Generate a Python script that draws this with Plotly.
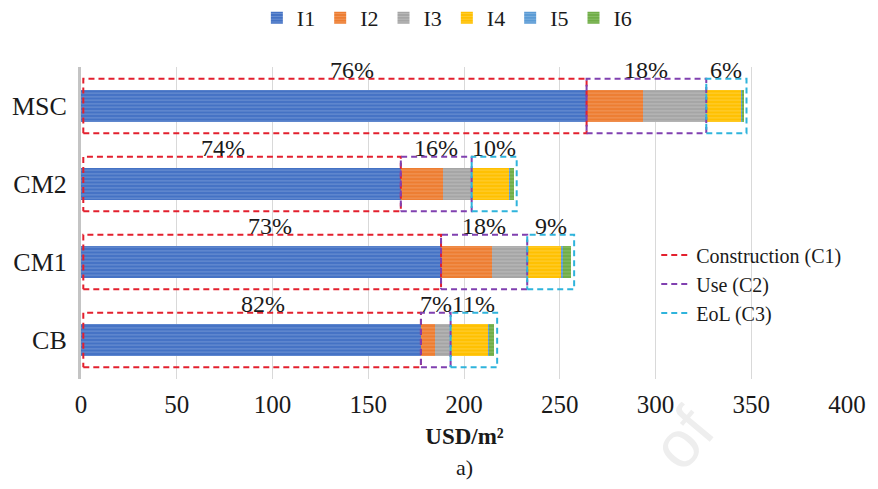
import plotly.graph_objects as go

# Cost breakdown per building system (USD/m²)
categories = ["CB", "CM1", "CM2", "MSC"]
I1 = [177.5, 188.0, 167.0, 264.0]
I2 = [7.2, 26.5, 22.0, 29.5]
I3 = [8.3, 18.5, 15.0, 33.0]
I4 = [19.7, 18.0, 19.5, 18.5]
I5 = [0.5, 0.5, 0.5, 0.4]
I6 = [2.6, 4.5, 2.0, 0.6]
x_ticks = [0, 50, 100, 150, 200, 250, 300, 350, 400]

series = [("I1", I1), ("I2", I2), ("I3", I3), ("I4", I4), ("I5", I5), ("I6", I6)]

# Stage groupings of the indicators
stages = [
    ("Construction (C1)", ["I1"]),
    ("Use (C2)", ["I2", "I3"]),
    ("EoL (C3)", ["I4", "I5", "I6"]),
]

# --- styling ---
FONT = "Liberation Serif, Times New Roman, serif"
bar_colors = {
    "I1": ("#4472C4", "#9AB3E2"),
    "I2": ("#ED7D31", "#F6B48A"),
    "I3": ("#A5A5A5", "#D4D4D4"),
    "I4": ("#FFC000", "#FFDD70"),
    "I5": ("#5B9BD5", "#A3C7EA"),
    "I6": ("#70AD47", "#A8D08C"),
}
stage_colors = ["#E3202E", "#8040B0", "#2FB4DC"]
BAR_W = 0.40
BOX_H = 0.35
label_nudge_px = [11, 8, -19, 17]  # horizontal offsets of the C1 share labels

pos = list(range(len(categories)))
values = dict(series)
totals = [sum(v[i] for _, v in series) for i in pos]

fig = go.Figure()

for name, vals in series:
    base, light = bar_colors[name]
    fig.add_trace(go.Bar(
        name=name, y=pos, x=vals, orientation="h", width=BAR_W,
        marker=dict(color=base, line=dict(width=0),
                    pattern=dict(shape="-", fgcolor=light, bgcolor=base,
                                 size=3.5, solidity=0.3)),
        legend="legend",
    ))

# Dashed boxes around each stage of every bar
annotations = []
for s_idx, (stage_name, members) in enumerate(stages):
    xs, ys = [], []
    for i in pos:
        start = 0.0
        for name, vals in series:
            if name == members[0]:
                break
            start += vals[i]
        span = sum(values[m][i] for m in members)
        end = start + span
        x0 = start if s_idx > 0 else start + 1.2
        x1 = end if s_idx < len(stages) - 1 else end + 1.5
        xs += [x0, x1, x1, x0, x0, None]
        ys += [i - BOX_H, i - BOX_H, i + BOX_H, i + BOX_H, i - BOX_H, None]
        share = round(100 * span / totals[i])
        annotations.append(dict(
            x=(x0 + x1) / 2, y=i + BOX_H, xref="x", yref="y",
            text=f"{share}%", showarrow=False, xanchor="center", yanchor="bottom",
            xshift=label_nudge_px[i] if s_idx == 0 else 0, yshift=-6,
            font=dict(family=FONT, size=24, color="#1a1a1a"),
        ))
    fig.add_trace(go.Scatter(
        name=stage_name, x=xs, y=ys, mode="lines",
        line=dict(color=stage_colors[s_idx], width=2, dash="6px,4px"),
        legend="legend2", hoverinfo="skip",
    ))

annotations.append(dict(
    x=0.5, y=-0.285, xref="paper", yref="paper", text="a)", showarrow=False,
    xanchor="center", yanchor="middle",
    font=dict(family=FONT, size=22, color="#1a1a1a"),
))
# faint watermark
annotations.append(dict(
    x=(690 - 81) / 776, y=-0.19, xref="paper", yref="paper", text="of",
    showarrow=False, textangle=-50, xanchor="center", yanchor="middle",
    font=dict(family="Liberation Sans", size=66, color="#EEEEEE"),
))

fig.update_layout(
    width=878, height=489,
    margin=dict(l=81, r=21, t=67, b=110),
    paper_bgcolor="white", plot_bgcolor="white",
    barmode="stack", bargap=0.6,
    font=dict(family=FONT, size=24, color="#1a1a1a"),
    showlegend=True,
    legend=dict(
        orientation="h", x=0.477, xanchor="center",
        yref="container", y=1 - 18 / 489, yanchor="middle",
        font=dict(family=FONT, size=22), bgcolor="rgba(0,0,0,0)",
        itemclick=False, traceorder="normal",
    ),
    legend2=dict(
        x=0.75, xanchor="left", y=0.46, yanchor="top",
        font=dict(family=FONT, size=20), bgcolor="rgba(0,0,0,0)",
        itemclick=False, traceorder="normal",
    ),
    xaxis=dict(
        range=[0, 400.5], tickvals=x_ticks, ticktext=[str(t) for t in x_ticks],
        showgrid=True, gridcolor="#D9D9D9", gridwidth=1, zeroline=False,
        showline=False, ticks="", ticklabelstandoff=8,
        tickfont=dict(family=FONT, size=25),
        title=dict(text="<b>USD/m²</b>", font=dict(family=FONT, size=23), standoff=10),
    ),
    yaxis=dict(
        range=[-0.5, 3.5], tickvals=pos, ticktext=categories,
        showgrid=False, zeroline=False, showline=True, linecolor="#C4C4C4",
        linewidth=3, ticks="", ticklabelstandoff=6,
        tickfont=dict(family=FONT, size=26),
    ),
    annotations=annotations,
)

fig.write_html("out.html")
